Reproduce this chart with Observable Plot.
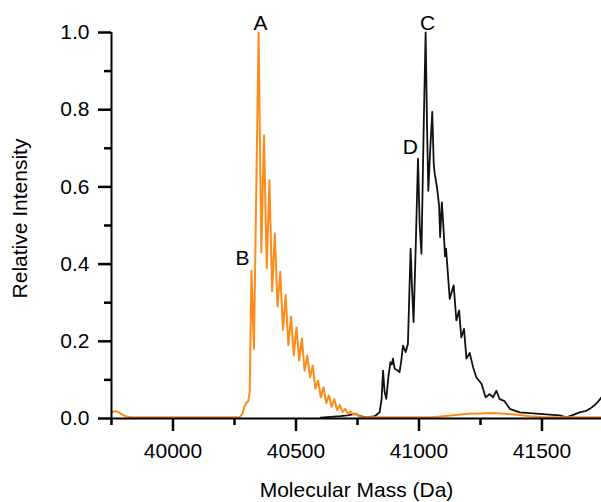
<!DOCTYPE html>
<html>
<head>
<meta charset="utf-8">
<script src="https://cdn.jsdelivr.net/npm/d3@7"></script>
<script src="https://cdn.jsdelivr.net/npm/@observablehq/plot@0.6"></script>
<style>
  html, body { margin: 0; padding: 0; background: #fff; }
</style>
</head>
<body>
<div id="chart"></div>
<script>
// Orange spectrum (Molecular Mass, Da) and relative intensity
const orangeMass = [39750, 39765, 39780, 39795, 39810, 39830, 40270, 40282, 40290, 40298, 40306, 40312, 40319, 40329,
  40348, 40359, 40370, 40381, 40392, 40403, 40414, 40425, 40436, 40447, 40458, 40469, 40480, 40491, 40502, 40513,
  40524, 40535, 40546, 40557, 40568, 40579, 40590, 40601, 40612, 40623, 40634, 40645, 40656, 40667, 40678, 40689,
  40700, 40711, 40722, 40733, 40745, 40760, 40780, 41050, 41100, 41150, 41200, 41250, 41300, 41350, 41400, 41450,
  41500, 41742];
const orangeInt = [0.016, 0.019, 0.016, 0.01, 0.005, 0.003, 0.003, 0.012, 0.03, 0.04, 0.045, 0.07, 0.383, 0.18,
  1.0, 0.43, 0.733, 0.39, 0.617, 0.33, 0.48, 0.29, 0.38, 0.23, 0.32, 0.19, 0.264, 0.163, 0.236, 0.15,
  0.207, 0.124, 0.163, 0.107, 0.137, 0.078, 0.098, 0.055, 0.081, 0.04, 0.06, 0.03, 0.05, 0.022, 0.035, 0.017,
  0.025, 0.012, 0.018, 0.01, 0.012, 0.004, 0.003, 0.003, 0.006, 0.009, 0.012, 0.013, 0.014, 0.012, 0.01, 0.006,
  0.004, 0.003];

// Black spectrum
const blackMass = [40600, 40640, 40680, 40710, 40740, 40760, 40790, 40820, 40840, 40848, 40854, 40860, 40867, 40876,
  40884, 40890, 40894, 40901, 40912, 40921, 40928, 40935, 40946, 40955, 40966, 40971, 40978, 40987, 40996, 41003,
  41010, 41019, 41027, 41033, 41038, 41046, 41054, 41060, 41064, 41073, 41082, 41086, 41093, 41099, 41106, 41110,
  41125, 41141, 41152, 41163, 41172, 41183, 41193, 41206, 41220, 41233, 41254, 41271, 41287, 41301, 41315, 41328,
  41348, 41369, 41409, 41450, 41490, 41530, 41572, 41599, 41630, 41653, 41680, 41694, 41715, 41730, 41742];
const blackInt = [0.002, 0.004, 0.006, 0.008, 0.012, 0.006, 0.003, 0.006, 0.016, 0.05, 0.124, 0.07, 0.051, 0.11,
  0.146, 0.14, 0.155, 0.129, 0.125, 0.12, 0.15, 0.189, 0.172, 0.193, 0.44, 0.35, 0.25, 0.45, 0.673, 0.5,
  0.427, 0.75, 1.0, 0.75, 0.59, 0.7, 0.794, 0.66, 0.634, 0.6, 0.55, 0.47, 0.56, 0.5, 0.42, 0.44,
  0.31, 0.345, 0.254, 0.28, 0.21, 0.232, 0.155, 0.17, 0.133, 0.107, 0.09, 0.055, 0.063, 0.055, 0.072, 0.05,
  0.045, 0.025, 0.016, 0.014, 0.012, 0.01, 0.008, 0.003, 0.01, 0.016, 0.02, 0.025, 0.035, 0.045, 0.055];

// Peak annotations
const peakNames = ["A", "B", "C", "D"];
const peakMass = [40348, 40319, 41027, 40996];
const peakInt = [1.0, 0.383, 1.0, 0.673];

// Ticks
const xMajorTicks = [40000, 40500, 41000, 41500];
const xMinorTicks = [39750, 40250, 40750, 41250];
const yMajorTicks = [0, 0.2, 0.4, 0.6, 0.8, 1.0];
const yMinorTicks = [0.1, 0.3, 0.5, 0.7, 0.9];

const orange = orangeMass.map((m, i) => ({m, v: orangeInt[i]}));
const black = blackMass.map((m, i) => ({m, v: blackInt[i]}));
const peaks = peakNames.map((n, i) => ({n, m: peakMass[i], v: peakInt[i]}));

const FS = 21;
const chart = Plot.plot({
  width: 601,
  height: 502,
  marginLeft: 111,
  marginRight: 0,
  marginTop: 32,
  marginBottom: 84,
  style: {fontFamily: "'Liberation Sans', Arial, sans-serif", background: "#fff", color: "#000"},
  x: {domain: [39750, 41742]},
  y: {domain: [0, 1]},
  marks: [
    Plot.line(black, {x: "m", y: "v", stroke: "#111", strokeWidth: 1.8}),
    Plot.line(orange, {x: "m", y: "v", stroke: "#ff8c1a", strokeWidth: 2}),
    Plot.ruleY([0], {stroke: "#000", strokeWidth: 2}),
    Plot.ruleX([39750], {stroke: "#000", strokeWidth: 2}),
    Plot.axisX(xMajorTicks, {tickSize: 13, tickPadding: 12, strokeWidth: 2.5, fontSize: FS, tickFormat: d => String(d), label: null}),
    Plot.axisX(xMinorTicks, {tickSize: 7, strokeWidth: 2.5, tickFormat: () => "", label: null}),
    Plot.axisY(yMajorTicks, {tickSize: 13, tickPadding: 9, strokeWidth: 2.5, fontSize: FS, tickFormat: d3.format(".1f"), label: null}),
    Plot.axisY(yMinorTicks, {tickSize: 7, strokeWidth: 2.5, tickFormat: () => "", label: null}),
    Plot.text(["Molecular Mass (Da)"], {frameAnchor: "bottom", dy: 78, lineAnchor: "bottom", fontSize: FS}),
    Plot.text(["Relative Intensity"], {frameAnchor: "left", textAnchor: "middle", dx: -91, dy: -7, rotate: -90, fontSize: FS}),
    Plot.text(peaks.filter(d => d.n === "A" || d.n === "C"), {x: "m", y: "v", text: "n", lineAnchor: "bottom", dy: -3, dx: 2, fontSize: FS}),
    Plot.text(peaks.filter(d => d.n === "B"), {x: "m", y: "v", text: "n", lineAnchor: "bottom", textAnchor: "end", dx: -2, dy: -6, fontSize: FS}),
    Plot.text(peaks.filter(d => d.n === "D"), {x: "m", y: "v", text: "n", lineAnchor: "bottom", textAnchor: "end", dx: 0, dy: -5, fontSize: FS})
  ]
});
document.getElementById("chart").appendChild(chart);
</script>
</body>
</html>
